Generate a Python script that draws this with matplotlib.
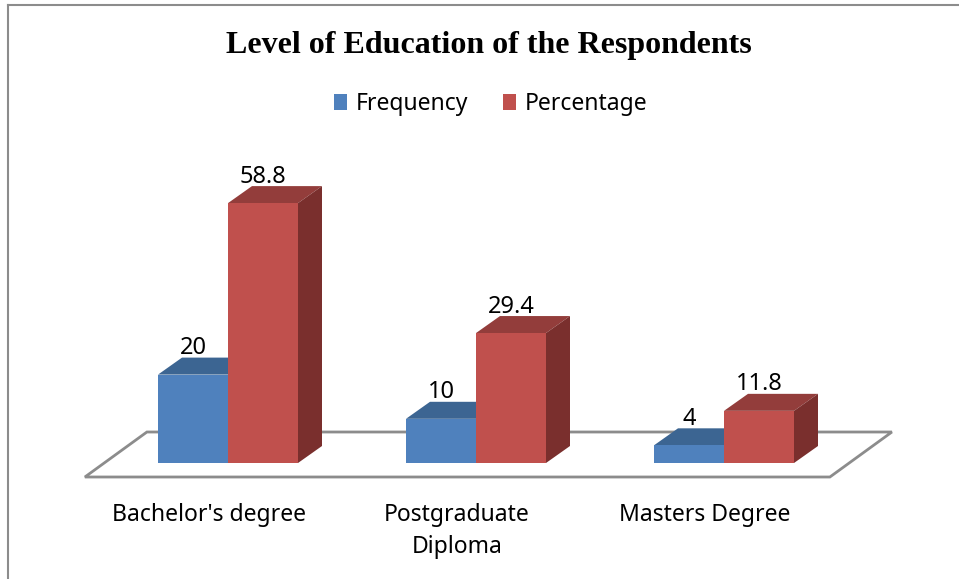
import matplotlib
matplotlib.use("Agg")
import matplotlib.pyplot as plt
from matplotlib.patches import Polygon, Patch
from matplotlib.lines import Line2D

categories = ["Bachelor's degree", "Postgraduate\nDiploma", "Masters Degree"]
series_names = ["Frequency", "Percentage"]
frequency = [20, 10, 4]
percentage = [58.8, 29.4, 11.8]
title = "Level of Education of the Respondents"

front_colors = ["#4F81BD", "#C0504D"]
top_colors = ["#3C6592", "#933D3B"]
side_colors = ["#3A5F8A", "#7A2F2D"]

W, H, DPI = 959, 579, 100
fig = plt.figure(figsize=(W / DPI, H / DPI), dpi=DPI)
ax = fig.add_axes([0, 0, 1, 1])
ax.set_axis_off()

# pixel mapping helpers (axis units)
px_per_x = 248.0
px_per_v = 4.42
x0_px = 228.0
base_px = 463.0
ax.set_xlim(-x0_px / px_per_x, (W - x0_px) / px_per_x)
ax.set_ylim(-(H - base_px) / px_per_v, base_px / px_per_v)

bar_w = 70 / px_per_x
ddx, ddy = 24 / px_per_x, 17 / px_per_v  # bar depth
fdx, fdy = 62 / px_per_x, 45 / px_per_v  # floor depth

n = len(categories)
# floor
fl = -0.577
fr = (n - 1) + 0.427
ffront = -14 / px_per_v
floor = Polygon([(fl, ffront), (fr, ffront), (fr + fdx, ffront + fdy), (fl + fdx, ffront + fdy)],
                closed=True, facecolor="white", edgecolor="#8C8C8C", linewidth=2.0, zorder=1)
ax.add_patch(floor)

series = [frequency, percentage]
for i in range(n):
    for s, vals in enumerate(series):
        v = vals[i]
        left = i + (s - 1) * bar_w
        right = left + bar_w
        z = 2 + i * 3 + s
        ax.bar(left, v, width=bar_w, align="edge", color=front_colors[s],
               edgecolor="none", zorder=z + 0.1)
        ax.add_patch(Polygon([(left, v), (right, v), (right + ddx, v + ddy), (left + ddx, v + ddy)],
                             closed=True, facecolor=top_colors[s], edgecolor="none", zorder=z))
        ax.add_patch(Polygon([(right, 0), (right + ddx, ddy), (right + ddx, v + ddy), (right, v)],
                             closed=True, facecolor=side_colors[s], edgecolor="none", zorder=z))
        ax.text(left + bar_w / 2, v + ddy - 0.6, f"{v:g}", ha="center", va="bottom",
                fontsize=17, family="Noto Sans", color="black", zorder=20)

for i, c in enumerate(categories):
    ax.text(i - 19 / px_per_x, -40 / px_per_v, c, ha="center", va="top",
            fontsize=16.5, family="Noto Sans", linespacing=1.45, color="black")

fig.text(489 / W, 1 - 46 / H, title, ha="center", va="center",
         fontsize=23, fontweight="bold", family="Liberation Serif")

handles = [Patch(facecolor=front_colors[s], edgecolor="none") for s in range(2)]
fig.legend(handles, series_names, loc="center", bbox_to_anchor=(491 / W, 1 - 104 / H),
           ncol=2, frameon=False, prop={"family": "Noto Sans", "size": 16.5},
           handlelength=0.55, handleheight=0.65, handletextpad=0.4, columnspacing=1.5)

# chart frame
fig.add_artist(Line2D([8 / W, 8 / W], [0, 1 - 5 / H], color="#8C8C8C", lw=1.5, transform=fig.transFigure))
fig.add_artist(Line2D([8 / W, 1], [1 - 5 / H, 1 - 5 / H], color="#8C8C8C", lw=1.5, transform=fig.transFigure))

fig.savefig("out.png", dpi=DPI)
